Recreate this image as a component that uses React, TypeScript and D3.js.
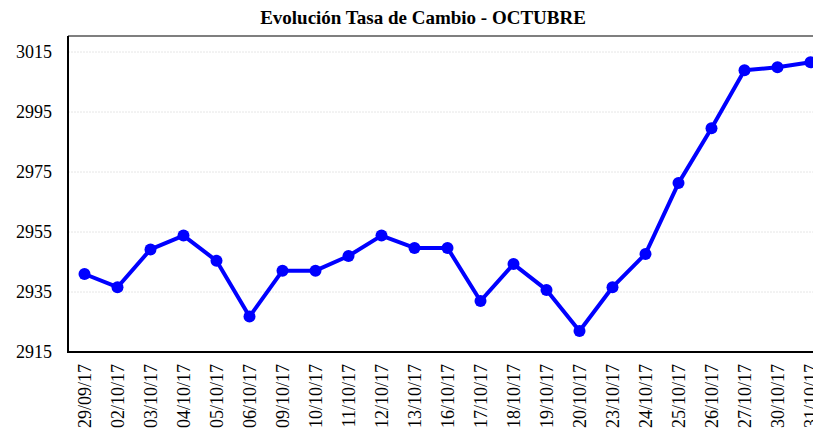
import React, { useRef, useEffect } from 'react';
import * as d3 from 'd3';

const FECHAS = ['29/09/17', '02/10/17', '03/10/17', '04/10/17', '05/10/17', '06/10/17', '09/10/17', '10/10/17', '11/10/17', '12/10/17', '13/10/17', '16/10/17', '17/10/17', '18/10/17', '19/10/17', '20/10/17', '23/10/17', '24/10/17', '25/10/17', '26/10/17', '27/10/17', '30/10/17', '31/10/17'];
const TASA = [2941.0, 2936.6, 2949.2, 2953.8, 2945.4, 2926.8, 2942.1, 2942.1, 2947.0, 2953.8, 2949.7, 2949.7, 2932.0, 2944.3, 2935.7, 2922.0, 2936.6, 2947.7, 2971.3, 2989.6, 3008.9, 3009.9, 3011.6];
const Y_TICKS = [2915, 2935, 2955, 2975, 2995, 3015];
const TITULO = 'Evolución Tasa de Cambio - OCTUBRE';

export default function App() {
  const svgRef = useRef<SVGSVGElement>(null);

  useEffect(() => {
    if (!svgRef.current) return;
    const width = 813, height = 435;
    const margin = { top: 36, left: 68, bottom: 83 };
    const innerWidth = 759; // plot runs past the right edge of the view
    const innerHeight = height - margin.top - margin.bottom;
    const font = 'Liberation Serif, Tinos, DejaVu Serif, serif';
    d3.select(svgRef.current).selectAll('*').remove();
    const svg = d3.select(svgRef.current).attr('width', width).attr('height', height)
      .style('font-family', font);
    svg.append('text').attr('x', 423).attr('y', 24).attr('text-anchor', 'middle')
      .attr('font-weight', 'bold').attr('font-size', '19px').attr('fill', '#000').text(TITULO);
    const g = svg.append('g').attr('transform', `translate(${margin.left},${margin.top})`);
    const x = d3.scaleBand().domain(FECHAS).range([0, innerWidth]).paddingInner(0).paddingOuter(0);
    const y = d3.scaleLinear().domain([2915, 2915 + innerHeight / 3]).range([innerHeight, 0]);
    const cx = (d: string) => (x(d) as number) + x.bandwidth() / 2;

    Y_TICKS.forEach((t) => {
      g.append('line').attr('x1', 0).attr('x2', innerWidth).attr('y1', y(t)).attr('y2', y(t))
        .attr('stroke', '#e6e6e6').attr('stroke-width', 1).attr('stroke-dasharray', '2,1');
      g.append('text').attr('x', -16).attr('y', y(t)).attr('dy', '0.35em').attr('text-anchor', 'end')
        .attr('font-size', '18px').attr('fill', '#000').text(t);
    });
    g.append('line').attr('x1', 0).attr('x2', innerWidth + 20).attr('y1', 0).attr('y2', 0)
      .attr('stroke', '#555').attr('stroke-width', 1.5);
    g.append('line').attr('x1', 0).attr('x2', 0).attr('y1', 0).attr('y2', innerHeight + 1)
      .attr('stroke', '#000').attr('stroke-width', 2);
    g.append('line').attr('x1', -1).attr('x2', innerWidth + 20).attr('y1', innerHeight).attr('y2', innerHeight)
      .attr('stroke', '#000').attr('stroke-width', 2);

    FECHAS.forEach((d) => {
      g.append('text').attr('transform', `translate(${cx(d)},${innerHeight + 12}) rotate(-90)`)
        .attr('dy', '0.35em').attr('text-anchor', 'end')
        .attr('font-size', '18px').attr('fill', '#000').text(d);
    });

    const pts = FECHAS.map((d, i) => ({ d, v: TASA[i] }));
    const line = d3.line<{ d: string; v: number }>().x(p => cx(p.d)).y(p => y(p.v));
    g.append('path').datum(pts).attr('d', line).attr('fill', 'none').attr('stroke', '#0000ff')
      .attr('stroke-width', 4).attr('stroke-linejoin', 'round');
    g.selectAll('circle').data(pts).enter().append('circle')
      .attr('cx', p => cx(p.d)).attr('cy', p => y(p.v)).attr('r', 6).attr('fill', '#0000ff');
  }, []);

  return <svg ref={svgRef} style={{ position: 'absolute', left: 0, top: 0, display: 'block' }} />;
}
